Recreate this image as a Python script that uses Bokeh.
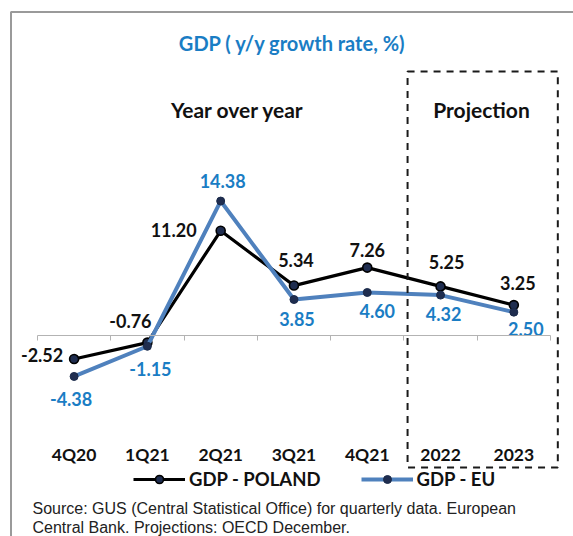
from bokeh.plotting import figure, ColumnDataSource
from bokeh.models import (Range1d, LinearAxis, FixedTicker, BoxAnnotation,
                          Legend, LegendItem, Label)
from bokeh.core.properties import value
from bokeh.embed import file_html
from bokeh.resources import INLINE

# ---- data -------------------------------------------------------------
periods = ["4Q20", "1Q21", "2Q21", "3Q21", "4Q21", "2022", "2023"]
gdp_poland = [-2.52, -0.76, 11.20, 5.34, 7.26, 5.25, 3.25]
gdp_eu = [-4.38, -1.15, 14.38, 3.85, 4.60, 4.32, 2.50]
projection_periods = ["2022", "2023"]

# ---- layout -----------------------------------------------------------
W, H = 573, 536
CAT_W = 73.29      # pixels per period
X0_PX = 73.6       # pixel centre of the first period
UNIT_PX = 9.35     # pixels per percentage point
ZERO_PX = 335.0    # pixel row of the 0 % line

FONT = "Lato"
BLUE_TXT = "#1A7DC4"
EU_LINE = "#4F81BD"
NAVY = "#1F2D4F"

def y_at(py):
    """Convert a pixel row of the canvas to a value on the y scale."""
    return (ZERO_PX - py) / UNIT_PX

x_range = Range1d(-X0_PX / CAT_W, (W - X0_PX) / CAT_W)
y_range = Range1d(-(H - ZERO_PX) / UNIT_PX, ZERO_PX / UNIT_PX)

p = figure(width=W, height=H, x_range=x_range, y_range=y_range,
           output_backend="svg", toolbar_location=None,
           x_axis_location=None, y_axis_location=None,
           min_border=0, outline_line_color=None)
p.xgrid.visible = False
p.ygrid.visible = False

xs = list(range(len(periods)))

# outer frame (left and top edges visible)
p.add_layout(BoxAnnotation(left=(10.5 - X0_PX) / CAT_W, top=y_at(11.5),
                           right=x_range.end + 5, bottom=y_range.start - 5,
                           fill_color=None, line_color="#9a9a9a",
                           line_alpha=1, line_width=2))

# 0 % line with period separators
n = len(periods)
zero_axis = LinearAxis(fixed_location=0, bounds=(-0.5, n - 0.5),
                       ticker=FixedTicker(ticks=[i - 0.5 for i in range(n + 1)]),
                       major_tick_in=0, major_tick_out=5,
                       minor_tick_in=0, minor_tick_out=0,
                       axis_line_color="#b3b3b3", axis_line_width=1,
                       major_tick_line_color="#b3b3b3",
                       major_label_text_alpha=0, major_label_text_font_size="1px")
p.add_layout(zero_axis, "below")

# period labels along the bottom
cat_axis = LinearAxis(fixed_location=y_at(443), ticker=FixedTicker(ticks=xs),
                      major_label_overrides={i: s for i, s in enumerate(periods)},
                      axis_line_color=None, major_tick_line_color=None,
                      minor_tick_line_color=None, major_tick_in=0, major_tick_out=0,
                      minor_tick_in=0, minor_tick_out=0, major_label_standoff=0,
                      major_label_text_font=FONT, major_label_text_font_style="bold",
                      major_label_text_font_size="17.5px",
                      major_label_text_color="#111111")
p.add_layout(cat_axis, "below")

# projection box
p0 = periods.index(projection_periods[0])
p1 = periods.index(projection_periods[-1])
p.add_layout(BoxAnnotation(left=p0 - 0.45, right=p1 + 0.6,
                           top=y_at(71), bottom=y_at(467),
                           fill_color=None, line_color="#1a1a1a", line_alpha=1,
                           line_width=2, line_dash="7 6"))

# series
pl_line = p.line(xs, gdp_poland, line_color="black", line_width=3.2)
pl_pts = p.scatter(xs, gdp_poland, size=9, fill_color=NAVY,
                   line_color="black", line_width=1.6)
eu_line = p.line(xs, gdp_eu, line_color=EU_LINE, line_width=4)
eu_pts = p.scatter(xs, gdp_eu, size=8, fill_color=NAVY,
                   line_color="#1A2A4A", line_width=1)

# value labels (offsets in screen pixels from each point)
pl_dx = [-32, -17, -47, 2, 0, 6, 4]
pl_dy = [-4, -22, -1, -26, -18, -24, -22]
eu_dx = [-3, 3, 2, 3, 10, 3, 12]
eu_dy = [23, 23, -20, 19, 19, 19, 17]

pl_src = ColumnDataSource(dict(x=xs, y=gdp_poland,
                               t=[f"{v:.2f}" for v in gdp_poland],
                               dx=pl_dx, dy=pl_dy))
eu_src = ColumnDataSource(dict(x=xs, y=gdp_eu,
                               t=[f"{v:.2f}" for v in gdp_eu],
                               dx=eu_dx, dy=eu_dy))
for src, col in ((pl_src, "#111111"), (eu_src, BLUE_TXT)):
    p.text(x="x", y="y", text="t", x_offset="dx", y_offset="dy", source=src,
           text_align="center", text_baseline="middle", text_font=value(FONT),
           text_font_style="bold", text_font_size="18px", text_color=col)

# headings
def add_label(txt, px, py, size, color="#111111", style="bold",
              font=FONT, align="center"):
    p.add_layout(Label(x=px, y=H - py, x_units="screen", y_units="screen",
                       text=txt, text_align=align, text_baseline="middle",
                       text_font=font, text_font_style=style,
                       text_font_size=size, text_color=color))

add_label("GDP ( y/y growth rate, %)", 292, 42, "20px", color=BLUE_TXT)
add_label("Year over year", 237, 109, "21px")
add_label("Projection", 481, 109, "21px")
add_label("Source: GUS (Central Statistical Office) for quarterly data. European",
          32, 508, "16px", color="#222222", style="normal",
          font="Liberation Sans", align="left")
add_label("Central Bank. Projections: OECD December.",
          32, 527, "16px", color="#222222", style="normal",
          font="Liberation Sans", align="left")

# legend
legend = Legend(items=[LegendItem(label="GDP - POLAND", renderers=[pl_line, pl_pts]),
                       LegendItem(label="GDP - EU", renderers=[eu_line, eu_pts])],
                orientation="horizontal", location=(133, 46),
                glyph_width=52, glyph_height=20, label_standoff=4, spacing=40,
                padding=0, margin=0, border_line_color=None,
                background_fill_alpha=0, label_text_font=FONT,
                label_text_font_style="bold", label_text_font_size="18.5px",
                label_text_color="#111111")
p.add_layout(legend, "center")

open("out.html", "w").write(file_html(p, INLINE))
